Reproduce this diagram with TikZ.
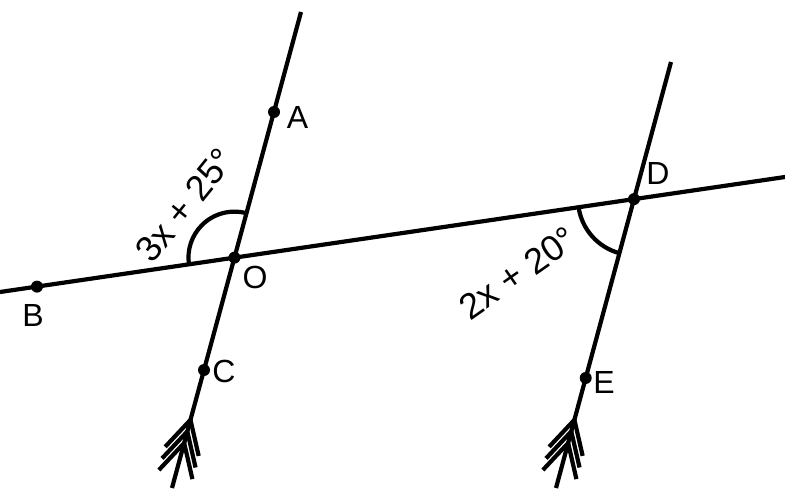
\documentclass[tikz,border=0pt]{standalone}
\usepackage{fontspec}
\setmainfont{Liberation Sans}
\usetikzlibrary{calc}
\usetikzlibrary{positioning}

\begin{document}
\begin{tikzpicture}[x=0.5pt,y=0.5pt,line width=2.1pt,
  dot/.style={circle,fill,inner sep=0pt,minimum size=6pt},
  lbl/.style={font=\fontsize{16}{19}\selectfont,inner sep=0pt},
  anglbl/.style={font=\fontsize{18}{21}\selectfont,inner sep=0pt}]
\useasboundingbox (0,0) rectangle (785,499);
% the transversal and the two parallels
\coordinate (t1) at (0,207);
\coordinate (t2) at (785,322);
\coordinate (p1) at (301,487);
\coordinate (q1) at (172,11);
\coordinate (p2) at (671,437);
\coordinate (q2) at (556,11);
\coordinate (O) at (intersection of t1--t2 and p1--q1);
\coordinate (D) at (intersection of t1--t2 and p2--q2);
\draw (t1) -- (t2);
\draw (p1) -- (q1);
\draw (p2) -- (q2);
% angles
\draw (O) ++(75:23pt) arc[start angle=75,end angle=188.3,radius=23pt];
\draw (D) ++(188.3:28pt) arc[start angle=188.3,end angle=254.9,radius=28pt];
% parallel marks
\foreach \p/\q in {p1/q1,p2/q2}
  \foreach \d in {23.3,29.3,35.3}
    \draw ($(\q)!\d pt!(\p)!18.5pt!28:(\q)$) -- ($(\q)!\d pt!(\p)$) -- ($(\q)!\d pt!(\p)!18.5pt!-28:(\q)$);
% points
\node[dot] (a) at (274,387) {};
\node[dot] (b) at (37,212.4) {};
\node[dot] (c) at (204,129) {};
\node[dot] (o) at (O) {};
\node[dot] (d) at (D) {};
\node[dot] (e) at (585.7,121) {};
\node[lbl] (la) at (297.5,382) {A};
\node[lbl] (lb) at (33,184) {B};
\node[lbl] (lc) at (224,128) {C};
\node[lbl] (lo) at (255,222) {O};
\node[lbl] (ld) at (658,326) {D};
\node[lbl] (le) at (604,117) {E};
\node[anglbl,rotate=51] (ango) at (185,294) {3x + 25°};
\node[anglbl,rotate=35] (angd) at (518,226) {2x + 20°};
\end{tikzpicture}
\end{document}
